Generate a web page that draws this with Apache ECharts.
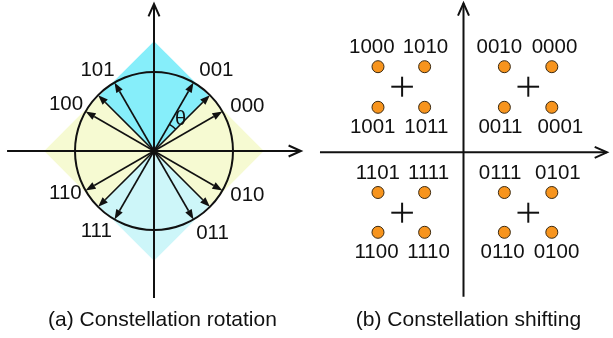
<!DOCTYPE html>
<html>
<head>
<meta charset="utf-8">
<script src="https://cdn.jsdelivr.net/npm/echarts@6/dist/echarts.min.js"></script>
<style>
  html, body { margin: 0; padding: 0; background: #fff; }
  #chart { width: 613px; height: 338px; }
</style>
</head>
<body>
<div id="chart"></div>
<script>
// ---------- (a) constellation rotation: 8-PSK on the unit circle ----------
const rotArrowAngles = [30, 45, 60, 120, 135, 150, 210, 225, 240, 300, 315, 330]; // degrees
const rotBits = ['000', '001', '101', '100', '110', '111', '011', '010'];
const rotBitAngles = [30, 60, 120, 150, 210, 240, 300, 330];
const rotTheta = [45, 60];        // span of the θ mark, degrees
const rotRadius = 1;
const rotDiamond = 1.39;          // half-diagonal of the shaded square
const rotAxisExtent = 1.86;

// ---------- (b) constellation shifting: 16 points in four groups ----------
const shiftBits = ['1000', '1010', '1001', '1011',
                   '0010', '0000', '0011', '0001',
                   '1101', '1111', '1100', '1110',
                   '0111', '0101', '0110', '0100'];
const shiftX = [-4.29, -1.95, -4.29, -1.95,
                 2.05,  4.43,  2.05,  4.43,
                -4.29, -1.95, -4.29, -1.95,
                 2.05,  4.43,  2.05,  4.43];
const shiftY = [ 4.28,  4.28,  2.25,  2.25,
                 4.28,  4.28,  2.25,  2.25,
                -2.01, -2.01, -4.00, -4.00,
                -2.01, -2.01, -4.00, -4.00];
const shiftCenterX = [-3.08, 3.25, -3.08, 3.25];
const shiftCenterY = [ 3.28, 3.28, -3.02, -3.02];
const shiftAxisX = [-7.2, 7.2];
const shiftAxisY = [-7.22, 7.45];

const captions = ['(a) Constellation rotation', '(b) Constellation shifting'];

// ---------- styling / layout ----------
const FONT_FAMILY = '"Liberation Sans", Arial, sans-serif';
const INK = '#111';
const QUAD_FILL = ['#86eefa', '#f6fad2', '#cdf6f9', '#f6fad2']; // up, right, down, left
// text nudges (px) relative to the arrow tip / dot they name
const rotLabelOffset = {
  '000': [25, -5.5], '001': [22.9, -12.6], '101': [-17, -12.6], '100': [-19.6, -7.5],
  '110': [-20.2, 3.3], '111': [-18.2, 11.6], '011': [19, 13.6], '010': [25, 5.3]
};
const shiftLabelDx = {
  '1000': -6.2, '1010': 0.8, '0010': -5, '0000': 2.7,
  '1001': -5.3, '1011': 1.7, '0011': -3.9, '0001': 8.6,
  '1101': -0.1, '1111': 4, '0111': -4.3, '0101': 6.1,
  '1100': -1.5, '1110': 4, '0110': -1.7, '0100': 4.7
};
const LABEL_FONT = '20.5px ' + FONT_FAMILY;

const rad = d => d * Math.PI / 180;

function axisWithChevron(params, api) {
  const p1 = api.coord([api.value(0), api.value(1)]);
  const p2 = api.coord([api.value(2), api.value(3)]);
  const a = Math.atan2(p2[1] - p1[1], p2[0] - p1[0]);
  const L = 13.5, W = 0.42;
  const w1 = [p2[0] - L * Math.cos(a - W), p2[1] - L * Math.sin(a - W)];
  const w2 = [p2[0] - L * Math.cos(a + W), p2[1] - L * Math.sin(a + W)];
  return {
    type: 'group',
    children: [
      { type: 'line', shape: { x1: p1[0], y1: p1[1], x2: p2[0], y2: p2[1] },
        style: { stroke: INK, lineWidth: 2 } },
      { type: 'polyline', shape: { points: [w1, p2, w2] },
        style: { stroke: INK, lineWidth: 2, fill: 'none' } }
    ]
  };
}

function quadrantSquare(params, api) {
  const vx = api.value(0), vy = api.value(1);
  const pts = [[0, 0], [(vx - vy) / 2, (vy + vx) / 2], [vx, vy], [(vx + vy) / 2, (vy - vx) / 2]]
    .map(p => api.coord(p));
  return { type: 'polygon', shape: { points: pts },
           style: { fill: QUAD_FILL[params.dataIndex], stroke: null } };
}

function ring(params, api) {
  const c = api.coord([0, 0]);
  const e = api.coord([api.value(0), 0]);
  return { type: 'circle', shape: { cx: c[0], cy: c[1], r: e[0] - c[0] },
           style: { stroke: INK, lineWidth: 2, fill: 'none' } };
}

function vectorArrow(params, api) {
  const o = api.coord([0, 0]);
  const t = api.coord([api.value(0), api.value(1)]);
  const a = Math.atan2(t[1] - o[1], t[0] - o[0]);
  const L = 10, H = 3.7;
  const bx = t[0] - L * Math.cos(a), by = t[1] - L * Math.sin(a);
  const nx = -Math.sin(a) * H, ny = Math.cos(a) * H;
  return {
    type: 'group',
    children: [
      { type: 'line', shape: { x1: o[0], y1: o[1], x2: bx, y2: by },
        style: { stroke: INK, lineWidth: 1.6 } },
      { type: 'polygon', shape: { points: [t, [bx + nx, by + ny], [bx - nx, by - ny]] },
        style: { fill: INK } }
    ]
  };
}

function thetaMark(params, api) {
  const a0 = api.value(0), a1 = api.value(1);
  const c = api.coord([0, 0]);
  const r = api.coord([0.39, 0])[0] - c[0];
  const mid = rad((a0 + a1) / 2 - 2);
  const lr = api.coord([0.53, 0])[0] - c[0];
  return {
    type: 'group',
    children: [
      { type: 'arc', shape: { cx: c[0], cy: c[1], r: r, startAngle: -rad(a1), endAngle: -rad(a0), clockwise: true },
        style: { stroke: INK, lineWidth: 1.4, fill: 'none' } },
      { type: 'text', x: c[0] + lr * Math.cos(mid), y: c[1] - lr * Math.sin(mid) + 1,
        style: { text: 'θ', font: '20px ' + FONT_FAMILY, fill: INK, align: 'center', verticalAlign: 'middle' } }
    ]
  };
}

function rotLabel(params, api) {
  const bits = rotBits[params.dataIndex];
  const t = api.coord([api.value(0), api.value(1)]);
  const off = rotLabelOffset[bits];
  return { type: 'text', x: t[0] + off[0], y: t[1] + off[1],
           style: { text: bits, font: LABEL_FONT, fill: INK, align: 'center', verticalAlign: 'middle' } };
}

function plusMark(params, api) {
  const p = api.coord([api.value(0), api.value(1)]);
  const h = 10.8;
  return {
    type: 'group',
    children: [
      { type: 'line', shape: { x1: p[0] - h, y1: p[1], x2: p[0] + h, y2: p[1] }, style: { stroke: INK, lineWidth: 2 } },
      { type: 'line', shape: { x1: p[0], y1: p[1] - h + 0.8, x2: p[0], y2: p[1] + h - 0.8 }, style: { stroke: INK, lineWidth: 2 } }
    ]
  };
}

function quadrantOf(x, y) { return (y > 0 ? 0 : 2) + (x > 0 ? 1 : 0); }

function shiftLabel(params, api) {
  const i = params.dataIndex;
  const x = api.value(0), y = api.value(1);
  const p = api.coord([x, y]);
  const above = y > shiftCenterY[quadrantOf(x, y)];
  return { type: 'text', x: p[0] + shiftLabelDx[shiftBits[i]], y: p[1] + (above ? -19 : 20),
           style: { text: shiftBits[i], font: LABEL_FONT, fill: INK, align: 'center', verticalAlign: 'middle' } };
}

// ---------- derived series data ----------
const polar = (deg, r) => [r * Math.cos(rad(deg)), r * Math.sin(rad(deg))];
const quadData = [[0, rotDiamond], [rotDiamond, 0], [0, -rotDiamond], [-rotDiamond, 0]];
const arrowData = rotArrowAngles.map(a => polar(a, rotRadius));
const rotLabelData = rotBitAngles.map(a => polar(a, rotRadius));
const rotAxes = [[-rotAxisExtent, 0, rotAxisExtent, 0], [0, -rotAxisExtent, 0, rotAxisExtent]];
const shiftAxes = [[shiftAxisX[0], 0, shiftAxisX[1], 0], [0, shiftAxisY[0], 0, shiftAxisY[1]]];
const shiftPoints = shiftX.map((x, i) => [x, shiftY[i]]);
const shiftCenters = shiftCenterX.map((x, i) => [x, shiftCenterY[i]]);

const hiddenAxis = (min, max, gridIndex) => ({
  type: 'value', min, max, gridIndex, show: false, splitLine: { show: false }
});

const chart = echarts.init(document.getElementById('chart'), null, { renderer: 'canvas' });
chart.setOption({
  backgroundColor: '#fff',
  animation: false,
  grid: [
    { left: 3.9, top: 0.9, width: 300.2, height: 300.2 },
    { left: 314, top: 2.3, width: 300, height: 300 }
  ],
  xAxis: [hiddenAxis(-1.9, 1.9, 0), hiddenAxis(-7.5, 7.5, 1)],
  yAxis: [hiddenAxis(-1.9, 1.9, 0), hiddenAxis(-7.5, 7.5, 1)],
  series: [
    { type: 'custom', xAxisIndex: 0, yAxisIndex: 0, data: quadData, renderItem: quadrantSquare, silent: true, clip: false },
    { type: 'custom', xAxisIndex: 0, yAxisIndex: 0, data: rotAxes, renderItem: axisWithChevron, silent: true, clip: false },
    { type: 'custom', xAxisIndex: 0, yAxisIndex: 0, data: [[rotRadius, 0]], renderItem: ring, silent: true, clip: false },
    { type: 'custom', xAxisIndex: 0, yAxisIndex: 0, data: arrowData, renderItem: vectorArrow, silent: true, clip: false },
    { type: 'custom', xAxisIndex: 0, yAxisIndex: 0, data: [rotTheta], renderItem: thetaMark, silent: true, clip: false },
    { type: 'custom', xAxisIndex: 0, yAxisIndex: 0, data: rotLabelData, renderItem: rotLabel, silent: true, clip: false },

    { type: 'custom', xAxisIndex: 1, yAxisIndex: 1, data: shiftAxes, renderItem: axisWithChevron, silent: true, clip: false },
    { type: 'custom', xAxisIndex: 1, yAxisIndex: 1, data: shiftCenters, renderItem: plusMark, silent: true, clip: false },
    { type: 'scatter', xAxisIndex: 1, yAxisIndex: 1, data: shiftPoints, symbol: 'circle', symbolSize: 12,
      itemStyle: { color: '#f7941d', borderColor: '#3b2a12', borderWidth: 1, opacity: 1 }, silent: true },
    { type: 'custom', xAxisIndex: 1, yAxisIndex: 1, data: shiftPoints, renderItem: shiftLabel, silent: true, clip: false }
  ],
  graphic: captions.map((t, i) => ({
    type: 'text',
    x: i === 0 ? 162.5 : 468.5,
    y: 320,
    style: { text: t, font: '21px ' + FONT_FAMILY, fill: INK, align: 'center', verticalAlign: 'middle' }
  }))
});
</script>
</body>
</html>
